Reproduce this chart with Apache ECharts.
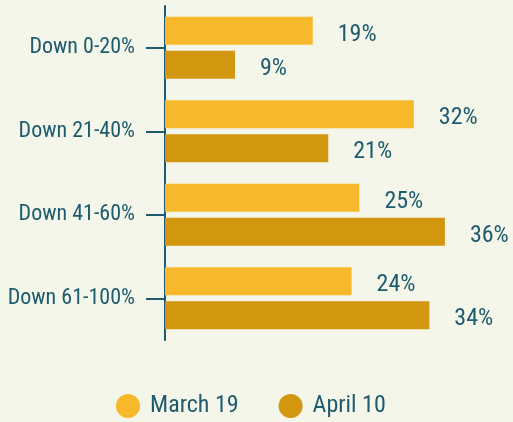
<!DOCTYPE html>
<html>
<head>
<meta charset="utf-8">
<script src="https://cdn.jsdelivr.net/npm/echarts@6/dist/echarts.min.js"></script>
<style>
html,body{margin:0;padding:0;background:#f4f6e9;}
#chart{width:513px;height:422px;}
</style>
</head>
<body>
<div id="chart"></div>
<script>
var categories = ['Down 0-20%', 'Down 21-40%', 'Down 41-60%', 'Down 61-100%'];
var seriesNames = ['March 19', 'April 10'];
var march19 = [19, 32, 25, 24];
var april10 = [9, 21, 36, 34];

var FONT = "'Liberation Sans Narrow', 'Roboto Condensed', Roboto, sans-serif";
var TEXT = '#1e5b6e';
var chart = echarts.init(document.getElementById('chart'));
var labelCfg = {
  show: true, position: 'right', distance: 25, offset: [0, 4],
  formatter: '{c}%', color: TEXT, fontFamily: FONT, fontSize: 24
};
chart.setOption({
  backgroundColor: '#f4f6e9',
  animation: false,
  grid: { left: 165, top: 6, width: 311, height: 334, containLabel: false },
  legend: {
    left: 111, top: 389, itemWidth: 24, itemHeight: 24, itemGap: 40,
    icon: 'circle',
    textStyle: { color: TEXT, fontFamily: FONT, fontSize: 24, padding: [0, 0, 0, 5] },
    data: seriesNames
  },
  xAxis: {
    type: 'value', min: 0, max: 40, show: false
  },
  yAxis: {
    type: 'category', inverse: true, data: categories,
    axisLine: { show: true, lineStyle: { color: TEXT, width: 2 } },
    axisTick: { show: true, alignWithLabel: true, length: 19, lineStyle: { color: TEXT, width: 2 } },
    axisLabel: { margin: 30, color: TEXT, fontFamily: FONT, fontSize: 22, padding: [13, 0, 0, 0] },
    splitLine: { show: false }
  },
  series: [
    { name: seriesNames[0], type: 'bar', data: march19, barWidth: 28, barGap: '21%',
      itemStyle: { color: '#f7b92b' }, label: labelCfg },
    { name: seriesNames[1], type: 'bar', data: april10, barWidth: 28, barGap: '21%',
      itemStyle: { color: '#d3960f' }, label: labelCfg }
  ]
});
</script>
</body>
</html>
